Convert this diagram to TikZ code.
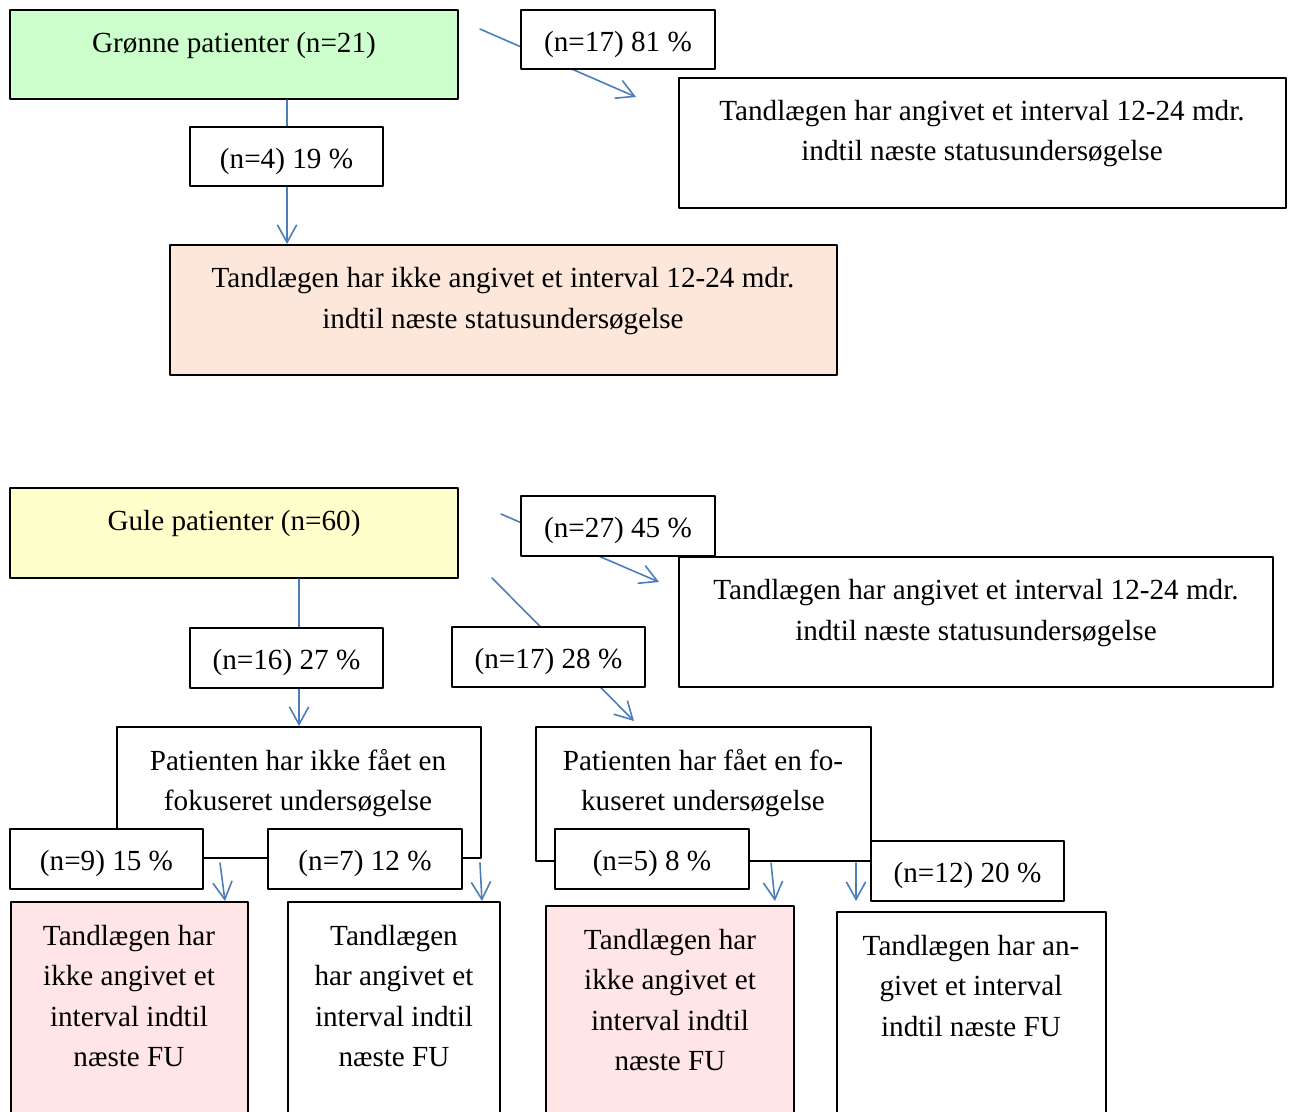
\documentclass[tikz,border=0pt]{standalone}
\usepackage{fontspec}
\setmainfont{Liberation Serif}
\usetikzlibrary{arrows.meta,calc,fit}
\definecolor{groen}{HTML}{CCFFCC}
\definecolor{gul}{HTML}{FFFFCC}
\definecolor{fersken}{HTML}{FDE6DA}
\definecolor{lyserod}{HTML}{FFE5E5}
\definecolor{pilblaa}{HTML}{4A7EBB}
\tikzset{
  boks/.style={draw, line width=1.1pt, inner sep=0pt},
  andel/.style={boks, fill=white, minimum width=3.87cm, minimum height=1.19cm, text height=17pt, text depth=3.6pt},
  tekst/.style={align=center, inner sep=0pt},
  pil/.style={draw=pilblaa, line width=0.9pt, -{Straight Barb[length=10pt,width=11pt]}},
}
\begin{document}
\begin{tikzpicture}[x=0.02cm, y=-0.02cm, font=\fontsize{16.6}{22.8}\selectfont, line join=round, line cap=round]
	\useasboundingbox (0,0) rectangle (1293,1111);
	\clip (0,0) rectangle (1293,1111);
	% Grønne patienter
	\node[boks, fill=groen, fit={(10,10) (458,99)}] (gron) {};
	\node[tekst] (gronT) at (234,45) {Grønne patienter (n=21)};
	\node[boks, fit={(679,78) (1286,208)}] (gronJa) {};
	\node[tekst] (gronJaT) at (982,134) {Tandlægen har angivet et interval 12-24 mdr.\\indtil næste statusundersøgelse};
	\node[boks, fill=fersken, fit={(170,245) (837,375)}] (gronNej) {};
	\node[tekst] (gronNejT) at (503,301) {Tandlægen har ikke angivet et interval 12-24 mdr.\\indtil næste statusundersøgelse};
	\draw[pil] ($(gron.south west)+(278,0)$) -- ($(gronNej.north west)+(118,0)$);
	\draw[pil] ($(gron.north east)+(21,20)$) -- ($(gronJa.north west)+(-42,20)$);
	\node[andel] (g81) at (618,39.5) {(n=17) 81 \%};
	\node[andel] (g19) at (286.5,156.5) {(n=4) 19 \%};
	% Gule patienter
	\node[boks, fill=gul, fit={(10,488) (458,578)}] (gul) {};
	\node[tekst] (gulT) at (234,523) {Gule patienter (n=60)};
	\node[boks, fit={(679,557) (1273,687)}] (gulJa) {};
	\node[tekst] (gulJaT) at (976,613) {Tandlægen har angivet et interval 12-24 mdr.\\indtil næste statusundersøgelse};
	\node[boks, fit={(117,727) (481,858)}] (ikkeFok) {};
	\node[tekst] (ikkeFokT) at (298,783) {Patienten har ikke fået en\\fokuseret undersøgelse};
	\node[boks, fit={(536,727) (871,861)}] (fok) {};
	\node[tekst] (fokT) at (703,783) {Patienten har fået en fo-\\kuseret undersøgelse};
	\draw[pil] ($(gul.north east)+(42,27)$) -- ($(gulJa.north west)+(-19,26)$);
	\draw[pil] ($(gul.south west)+(290,0)$) -- ($(ikkeFok.north west)+(183,0)$);
	\draw[pil] ($(gul.south east)+(33,-1)$) -- ($(fok.north west)+(99,-5)$);
	\node[andel] (g45) at (618,526) {(n=27) 45 \%};
	\node[andel] (g27) at (286.5,658) {(n=16) 27 \%};
	\node[andel] (g28) at (548.5,657) {(n=17) 28 \%};
	\node[andel] (g15) at (106.5,859) {(n=9) 15 \%};
	\node[andel] (g12) at (365,859) {(n=7) 12 \%};
	\node[andel] (g8) at (652,859) {(n=5) 8 \%};
	\node[andel] (g20) at (967.5,871) {(n=12) 20 \%};
	% nederste raekke
	\node[boks, fill=lyserod, fit={(11,902) (248,1125)}] (b1) {};
	\node[tekst] (b1T) at (129,996) {Tandlægen har\\ikke angivet et\\interval indtil\\næste FU};
	\node[boks, fit={(288,902) (500,1125)}] (b2) {};
	\node[tekst] (b2T) at (394,996) {Tandlægen\\har angivet et\\interval indtil\\næste FU};
	\node[boks, fill=lyserod, fit={(546,906) (794,1125)}] (b3) {};
	\node[tekst] (b3T) at (670,1000) {Tandlægen har\\ikke angivet et\\interval indtil\\næste FU};
	\node[boks, fit={(837,912) (1106,1125)}] (b4) {};
	\node[tekst] (b4T) at (971,986) {Tandlægen har an-\\givet et interval\\indtil næste FU};
	\draw[pil] ($(ikkeFok.south west)+(104,4)$) -- ($(b1.north east)+(-24,0)$);
	\draw[pil] ($(ikkeFok.south east)+(-2,4)$) -- ($(b2.north east)+(-19,0)$);
	\draw[pil] ($(fok.south west)+(236,1)$) -- ($(b3.north east)+(-20,-4)$);
	\draw[pil] ($(fok.south east)+(-16,1)$) -- ($(b4.north west)+(20,-10)$);
\end{tikzpicture}
\end{document}
